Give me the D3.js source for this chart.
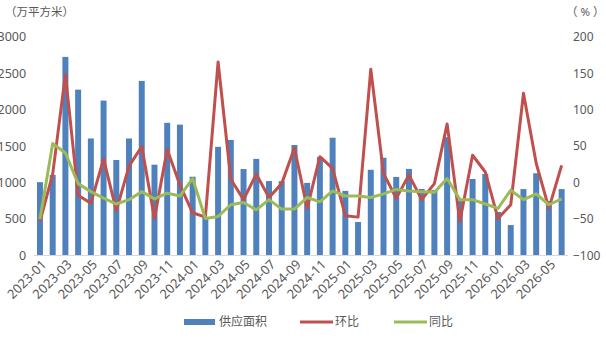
<!DOCTYPE html>
<html>
<head>
<meta charset="utf-8">
<script src="https://cdn.jsdelivr.net/npm/d3@7"></script>
<style>
  body { margin: 0; background: #fff; }
  text { font-family: "Noto Sans", "Noto Sans CJK SC", sans-serif; fill: #595959; }
</style>
</head>
<body>
<script>
// months 2023-01 .. 2026-06
var months = [];
for (var y = 2023; y <= 2026; y++)
    for (var m = 1; m <= 12; m++)
        if (!(y == 2026 && m > 6)) months.push(y + "-" + (m < 10 ? "0" + m : m));

var supply = [1000, 1100, 2720, 2270, 1600, 2120, 1305, 1600, 2390, 1240, 1815, 1790,
              1075, 515, 1485, 1580, 1180, 1320, 1015, 1015, 1510, 990, 1345, 1610,
              880, 453, 1170, 1335, 1072, 1182, 907, 893, 1617, 740, 1044, 1113,
              590, 411, 905, 1122, 740, 905];
var mom = [-54, 11, 148, -18, -29, 32, -39, 22, 49, -50, 45, -4,
           -42, -48, 165, 4, -24, 11, -21, -2, 47, -36, 35, 19,
           -46, -48, 155, 12, -22, 10, -24, -2, 80, -54, 37, 14,
           -50, -31, 122, 26, -36, 23];
var yoy = [-51, 53, 40, -2, -13, -22, -30, -24, -13, -23, -15, -19,
           5, -50, -47, -31, -28, -38, -24, -37, -37, -21, -27, -12,
           -19, -19, -21, -16, -10, -12, -13, -14, 5, -24, -24, -30,
           -36, -11, -24, -16, -31, -23];
var leftTicks = [0, 500, 1000, 1500, 2000, 2500, 3000];
var rightTicks = [-100, -50, 0, 50, 100, 150, 200];

var W = 606, H = 341;
var pLeft = 33.6, pRight = 568, pTop = 36.5, pBottom = 255;

var svg = d3.select("body").append("svg").attr("width", W).attr("height", H);

var x = d3.scaleBand().domain(months).range([pLeft, pRight]).paddingInner(0.53).paddingOuter(0.265);
var xc = function(d){ return x(d) + x.bandwidth() / 2; };
var yL = d3.scaleLinear().domain([0, 3000]).range([pBottom, pTop]);
var yR = d3.scaleLinear().domain([-100, 200]).range([pBottom, pTop]);

// bars
svg.selectAll("rect.bar")
    .data(supply)
    .enter()
    .append("rect")
    .attr("class", "bar")
    .attr("x", function(d, i){ return x(months[i]); })
    .attr("y", function(d){ return yL(d); })
    .attr("width", x.bandwidth())
    .attr("height", function(d){ return pBottom - yL(d); })
    .style("fill", "#4F81BD");

// baseline
svg.append("line")
    .attr("x1", pLeft).attr("x2", pRight)
    .attr("y1", pBottom + 0.5).attr("y2", pBottom + 0.5)
    .style("stroke", "#d9d9d9").style("stroke-width", 1);

// lines
var line = d3.line()
    .x(function(d, i){ return xc(months[i]); })
    .y(function(d){ return yR(d); });

svg.append("path").datum(mom).attr("d", line)
    .style("fill", "none").style("stroke", "#C0504D").style("stroke-width", 3)
    .style("stroke-linejoin", "round");
svg.append("path").datum(yoy).attr("d", line)
    .style("fill", "none").style("stroke", "#9BBB59").style("stroke-width", 3)
    .style("stroke-linejoin", "round");

// left axis
var axL = svg.append("g").attr("transform", "translate(" + pLeft + ",0)")
    .call(d3.axisLeft(yL).tickValues(leftTicks).tickSize(0).tickFormat(d3.format("d")).tickPadding(7.5));
axL.select(".domain").remove();
axL.selectAll("text").style("font-size", "12.5px").attr("dy", "0.35em");

// right axis
var axR = svg.append("g").attr("transform", "translate(" + pRight + ",0)")
    .call(d3.axisRight(yR).tickValues(rightTicks).tickSize(0).tickFormat(d3.format("d")).tickPadding(5));
axR.select(".domain").remove();
axR.selectAll("text").style("font-size", "12px").attr("dy", "0.35em");

// x axis labels
var xLabels = months.filter(function(d, i){ return i % 2 == 0; });
svg.selectAll("text.xl")
    .data(xLabels)
    .enter()
    .append("text")
    .attr("class", "xl")
    .attr("transform", function(d){ return "translate(" + (xc(d) + 4) + "," + (pBottom + 7) + ") rotate(-45)"; })
    .attr("text-anchor", "end")
    .attr("dy", "0.35em")
    .style("font-size", "13px")
    .text(function(d){ return d; });

// unit titles
svg.append("text").attr("x", 5).attr("y", 16).style("font-size", "11.5px").text("（万平方米）");
svg.append("text").attr("x", 566).attr("y", 16).style("font-size", "11.5px").text("（ % ）");

// legend
var lg = svg.append("g");
lg.append("rect").attr("x", 184).attr("y", 319).attr("width", 31).attr("height", 6).style("fill", "#4F81BD");
lg.append("text").attr("x", 219).attr("y", 322).attr("dy", "0.35em").style("font-size", "12px").text("供应面积");
lg.append("line").attr("x1", 300).attr("x2", 333).attr("y1", 322).attr("y2", 322)
    .style("stroke", "#C0504D").style("stroke-width", 3);
lg.append("text").attr("x", 335).attr("y", 322).attr("dy", "0.35em").style("font-size", "12px").text("环比");
lg.append("line").attr("x1", 394).attr("x2", 427).attr("y1", 322).attr("y2", 322)
    .style("stroke", "#9BBB59").style("stroke-width", 3);
lg.append("text").attr("x", 429).attr("y", 322).attr("dy", "0.35em").style("font-size", "12px").text("同比");
</script>
</body>
</html>
